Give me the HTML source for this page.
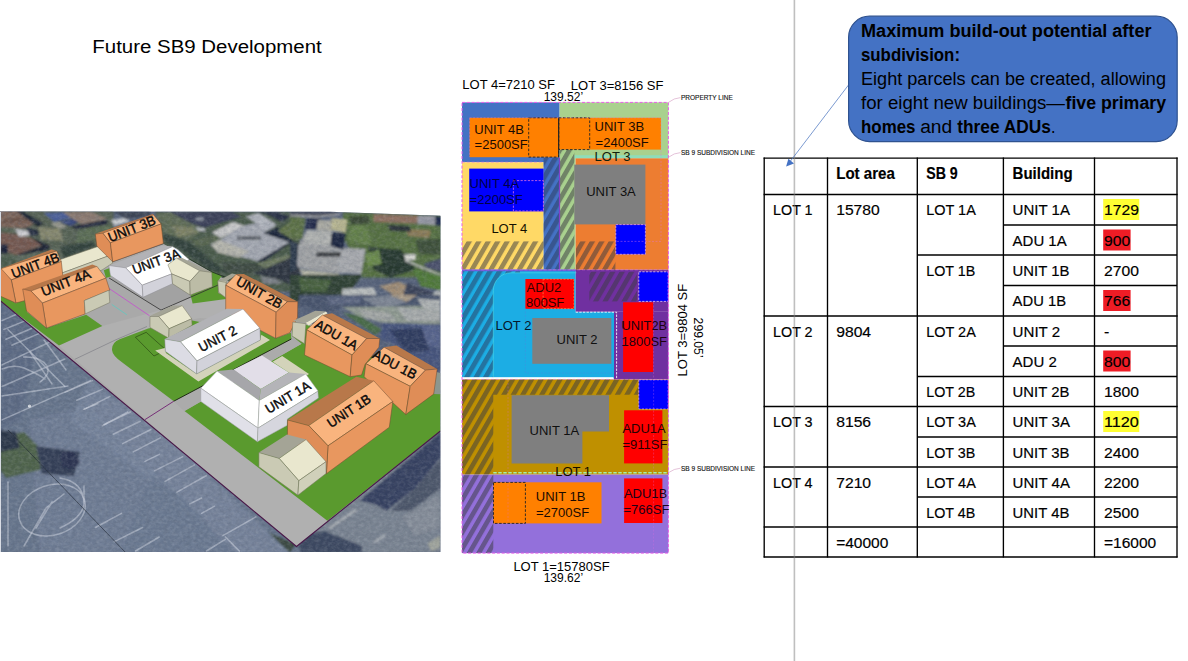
<!DOCTYPE html>
<html><head><meta charset="utf-8"><title>Future SB9 Development</title>
<style>
html,body{margin:0;padding:0;background:#fff;}
body{width:1188px;height:661px;overflow:hidden;font-family:"Liberation Sans",sans-serif;}
svg{display:block;position:absolute;left:0;top:0;}
text{font-family:"Liberation Sans",sans-serif;}
</style></head><body>
<svg width="1188" height="661" viewBox="0 0 1188 661">
<rect x="0" y="0" width="1188" height="661" fill="#ffffff"/>
<defs>
<clipPath id="imgclip"><polygon points="0,211.6 330,211.8 440.4,215.8 440.4,552.1 0,552.1"/></clipPath>
<filter id="bl3" x="-20%" y="-20%" width="140%" height="140%"><feGaussianBlur stdDeviation="2.2"/></filter>
<filter id="bl1" x="-20%" y="-20%" width="140%" height="140%"><feGaussianBlur stdDeviation="0.9"/></filter>
<filter id="bl1b" x="-5%" y="-5%" width="110%" height="110%"><feGaussianBlur stdDeviation="1.3"/></filter>
<filter id="bl0" x="-5%" y="-5%" width="110%" height="110%"><feGaussianBlur stdDeviation="0.75"/></filter>
<filter id="grain" x="0" y="0" width="100%" height="100%">
<feTurbulence type="fractalNoise" baseFrequency="0.22 0.3" numOctaves="3" seed="7" result="n"/>
<feColorMatrix in="n" type="matrix" values="0 0 0 0 0.08  0 0 0 0 0.1  0 0 0 0 0.14  1.6 1.2 0 0 -1.05"/>
</filter>
<filter id="grain2" x="0" y="0" width="100%" height="100%">
<feTurbulence type="fractalNoise" baseFrequency="0.25 0.33" numOctaves="3" seed="21" result="n"/>
<feColorMatrix in="n" type="matrix" values="0 0 0 0 0.85  0 0 0 0 0.88  0 0 0 0 0.9  0 1.3 1.5 0 -1.12"/>
</filter>
</defs>
<g clip-path="url(#imgclip)">
<rect x="0" y="211" width="441" height="342" fill="#56627a"/>
<g filter="url(#bl1b)">
<polygon points="0.0,210.5 113.6,210.5 113.6,261.0 63.1,261.0 0.0,273.7" fill="#566252" />
<polygon points="0.0,210.5 20.2,210.5 36.6,222.5 25.3,228.2 0.0,226.9" fill="#7c6459" />
<polygon points="0.0,232.6 15.2,233.9 31.6,238.3 42.3,245.2 16.4,255.0 0.0,249.7" fill="#74594f" />
<polygon points="2.5,220.6 25.3,216.8 29.0,220.0 3.8,223.8" fill="#6a5249" />
<polygon points="16.4,211.2 22.7,211.2 44.2,223.2 37.9,226.9" fill="#1e2634" />
<polygon points="15.2,228.8 29.0,231.0 30.6,235.1 18.9,236.8" fill="#cfcfd3" />
<polygon points="25.3,226.9 37.9,230.1 39.1,235.1 30.9,236.4" fill="#222a3c" />
<polygon points="31.6,237.7 49.9,245.2 48.6,250.3 18.9,255.7 16.4,255.0 42.3,245.9" fill="#1b2130" />
<polygon points="0.6,244.0 7.6,244.6 8.2,253.5 0.6,254.1" fill="#1a2238" />
<polygon points="0.0,254.7 18.9,255.7 41.7,251.6 58.1,257.9 0.0,268.6" fill="#5d6a5c" />
<polygon points="1.3,257.2 15.2,256.6 16.4,264.8 1.3,267.3" fill="#47594a" />
<polygon points="37.9,226.9 60.6,228.8 63.1,240.8 41.7,239.6" fill="#84866c" />
<polygon points="43.6,213.1 63.1,212.2 71.3,218.1 54.3,222.1" fill="#4c5f99" />
<polygon points="59.3,222.1 75.8,217.5 81.4,220.6 70.7,225.9" fill="#36447a" />
<polygon points="50.5,223.2 59.3,222.1 66.9,226.9 59.3,228.8" fill="#9a9a90" />
<polygon points="63.1,212.2 90.9,211.8 107.3,218.7 82.1,224.4 71.3,218.1" fill="#8c7a70" />
<polygon points="70.7,225.9 80.8,224.4 107.3,219.4 107.3,224.4 75.8,229.5" fill="#20263a" />
<polygon points="111.1,220.0 127.5,217.1 129.4,221.9 114.9,225.9" fill="#c4c8cc" />
<polygon points="113.6,211.2 150.0,211.2 150.0,215.6 126.3,219.4" fill="#3c4454" />
<polygon points="78.3,229.5 111.1,224.4 113.6,230.7 96.0,244.6 75.8,245.9" fill="#5a6c52" />
<polygon points="60.6,245.9 93.4,240.8 96.0,245.9 63.1,257.9" fill="#33423a" />
<polygon points="155.1,211.8 300.0,211.8 300.0,291.5 187.9,291.5 162.6,245.9" fill="#4a5a4a" />
<polygon points="156.3,213.1 171.5,212.4 203.0,229.5 187.9,241.5 165.2,238.3" fill="#5e6c55" />
<polygon points="171.5,225.7 191.7,226.9 198.0,233.3 177.8,237.0" fill="#7c8064" />
<polygon points="170.2,212.2 232.1,212.2 241.2,216.8 204.3,227.8 191.7,223.4" fill="#3b4158" />
<polygon points="195.5,218.1 203.0,217.5 204.3,220.0 196.7,220.6" fill="#9aa0ac" />
<polygon points="195.5,226.9 204.3,228.2 205.6,231.4 198.0,230.7" fill="#b8bcc0" />
<polygon points="163.9,233.3 187.9,240.8 228.3,273.7 209.3,269.9 181.6,250.3 163.9,240.8" fill="#33433b" />
<polygon points="191.7,240.8 215.7,235.1 220.7,239.6 210.6,244.6 195.5,245.9" fill="#586650" />
<polygon points="210.6,244.6 220.7,239.6 238.4,226.9 261.1,221.9 276.3,225.7 263.6,233.3 289.5,242.1 257.3,261.3 248.5,258.5 218.2,252.4" fill="#a5a9b2" />
<polygon points="211.9,232.6 233.3,221.9 243.7,225.7 220.7,237.9" fill="#cacaca" />
<polygon points="210.6,244.6 220.7,240.3 249.7,251.6 238.4,257.5 218.2,252.4" fill="#b6b6ad" />
<polygon points="246.0,216.8 258.6,213.1 276.3,224.4 266.2,229.5" fill="#b2b6be" />
<polygon points="237.1,236.4 261.1,236.4 261.1,239.6 237.1,239.6" fill="#555a60" />
<polygon points="263.6,233.3 277.5,226.9 293.3,241.1 263.6,261.7 257.3,261.3 289.5,242.1" fill="#1d253b" />
<polygon points="258.6,213.1 276.3,211.8 290.2,216.8 281.3,221.9 269.9,215.6" fill="#2a3246" />
<polygon points="277.5,230.7 300.0,215.6 300.0,239.6 292.7,239.8" fill="#607246" />
<polygon points="257.3,263.6 293.3,253.5 289.5,278.7 269.9,271.1" fill="#6e7a60" />
<polygon points="220.7,262.3 257.3,263.6 269.9,271.1 251.0,273.7 225.8,272.4" fill="#3c4a40" />
<polygon points="253.5,273.7 276.3,278.7 300.0,288.8 300.0,258.5 293.9,256.0" fill="#2d3541" />
<polygon points="259.8,276.2 276.3,278.7 282.6,283.8 263.6,283.8" fill="#7c8086" />
<polygon points="295.2,245.9 300.0,244.6 300.0,267.3 296.5,266.1" fill="#b0b4b8" />
<polygon points="342.9,212.2 441.7,215.0 441.7,277.6 362.4,277.6 342.9,235.8" fill="#55703f" />
<polygon points="290.0,212.2 337.3,212.2 331.7,216.6 306.7,216.6 290.0,214.7" fill="#3c4254" />
<polygon points="290.0,214.4 317.8,215.8 340.1,213.6 340.4,215.0 317.8,217.5 290.0,216.1" fill="#aaaaaa" />
<polygon points="290.0,217.7 305.3,217.7 302.5,239.3 290.0,236.5" fill="#5b7145" />
<polygon points="306.7,218.4 320.9,217.7 317.8,229.1 305.3,229.1" fill="#202c48" />
<polygon points="317.8,219.8 331.7,220.5 331.2,231.1 316.4,230.3" fill="#a9a9a1" />
<polygon points="331.7,217.7 347.3,219.8 345.7,232.5 331.0,230.3" fill="#bab892" />
<polygon points="298.3,245.8 306.7,230.3 331.7,231.0 333.4,247.0 365.4,249.0 361.2,273.4 337.3,272.8 298.3,268.1" fill="#a1a3a5" />
<polygon points="306.7,230.3 331.7,231.0 333.1,245.8 303.9,243.1" fill="#b1b3b1" />
<polygon points="337.3,249.7 365.4,249.0 361.2,273.4 338.0,272.7" fill="#a8aaae" />
<polygon points="299.7,269.2 338.7,273.4 341.8,279.2 302.5,275.1" fill="#b9b9a9" />
<polygon points="331.7,233.0 345.9,233.0 343.2,250.0 330.4,245.8" fill="#1d2740" />
<polygon points="316.4,252.2 340.8,252.2 340.8,256.7 316.4,256.7" fill="#3a3c40" />
<polygon points="290.0,241.4 298.3,242.8 297.0,269.2 290.0,272.0" fill="#2c3848" />
<polygon points="373.5,214.3 418.3,215.7 417.5,223.6 373.5,221.9" fill="#8f6f61" />
<polygon points="418.0,215.7 435.7,216.1 435.7,225.0 417.3,224.1" fill="#9799a5" />
<polygon points="435.4,216.3 441.7,216.3 441.7,225.7 435.4,225.7" fill="#192347" />
<polygon points="405.5,228.9 430.8,230.3 429.4,238.1 408.3,236.1" fill="#8b7b59" />
<polygon points="348.4,216.3 367.9,215.7 370.7,223.3 351.2,224.7" fill="#3a4a34" />
<polygon points="387.4,224.7 409.7,226.1 411.1,231.7 390.2,231.0" fill="#2a3238" />
<polygon points="367.9,247.0 401.3,249.7 415.9,269.5 390.2,277.8 373.5,269.5" fill="#27372f" />
<polygon points="365.1,253.9 379.0,249.7 381.8,263.7 367.9,266.4" fill="#6a8a4c" />
<polygon points="351.2,224.7 367.9,226.1 370.7,244.2 348.4,241.4" fill="#64804a" />
<polygon points="415.2,240.0 441.0,238.6 441.0,255.3 419.4,253.9" fill="#3c5038" />
<polygon points="404.1,254.6 415.5,253.9 415.5,259.8 405.5,260.5" fill="#d2d2ce" />
<polygon points="405.5,259.5 441.7,274.8 441.7,276.5 404.8,261.2" fill="#b8bab8" />
<polygon points="412.4,269.2 441.7,275.5 441.7,290.4 420.8,286.2" fill="#4f7939" />
<polygon points="423.6,263.7 441.7,258.1 441.7,272.3 426.4,268.1" fill="#484f6b" />
<polygon points="290.0,274.8 362.6,274.8 342.9,301.2 290.0,301.2" fill="#2d3f33" />
<polygon points="298.3,277.6 331.7,280.4 326.2,291.5 301.1,291.5" fill="#46603e" />
<polygon points="342.9,288.7 373.8,287.3 379.3,301.2 340.1,301.2" fill="#b9bdbd" />
<polygon points="379.0,285.9 398.8,281.7 421.1,291.5 401.6,300.1" fill="#a18d75" />
<polygon points="359.6,294.3 395.7,301.2 359.6,301.2" fill="#4b5979" />
<polygon points="406.9,283.1 435.0,292.9 415.2,301.2 401.3,301.2" fill="#3b4359" />
<polygon points="434.7,291.5 441.7,290.1 441.7,301.2 429.1,301.2" fill="#b4b8b8" />
<polygon points="298.9,295.0 440.3,295.0 440.3,305.4 342.4,307.2 326.7,312.4 298.9,305.4" fill="#46526c" />
<polygon points="326.7,296.7 361.5,295.9 359.8,303.7 328.5,305.4" fill="#5c6680" />
<polygon points="361.5,298.5 389.3,295.0 406.7,302.0 382.4,308.9" fill="#7e8694" />
<polygon points="389.3,295.0 417.2,295.0 406.7,302.0" fill="#a89a86" />
<polygon points="342.4,307.2 440.3,305.4 440.3,324.6 382.4,322.8 358.0,315.9" fill="#8f9a90" />
<polygon points="358.0,308.9 389.3,312.4 396.3,321.1 366.7,319.3" fill="#a4a8a6" />
<polygon points="396.3,307.2 440.3,310.7 440.3,321.1 406.7,321.1" fill="#a8acac" />
<polygon points="417.2,298.5 440.3,300.2 440.3,310.7 424.1,308.9" fill="#b0b4b4" />
<polygon points="342.4,312.4 359.8,315.9 382.4,329.8 375.4,335.0" fill="#4a6c46" />
<polygon points="382.4,322.8 440.3,324.6 440.3,371.5 434.6,371.5 396.3,345.4 379.8,338.5" fill="#45537b" />
<polygon points="389.3,329.8 424.1,328.0 429.3,350.7 406.7,352.4" fill="#2f3b5f" />
<polygon points="420.7,324.6 440.3,326.3 440.3,347.2 427.6,345.4" fill="#56648c" />
<polygon points="300.0,543.4 326.7,520.8 440.5,431.3 440.5,552.7 300.0,552.7" fill="#7a8492" />
<polygon points="359.6,500.6 440.5,432.3 440.5,457.4 415.2,488.3 386.4,510.9 376.1,504.7" fill="#364060" />
<polygon points="415.2,488.3 440.5,459.1 440.5,488.3 411.1,510.9 390.5,510.9" fill="#4b5569" />
<polygon points="300.0,535.2 324.7,531.1 361.7,545.9 361.7,552.7 300.0,552.7" fill="#3a4660" />
<polygon points="402.8,516.7 440.5,494.0 440.5,527.0 415.2,535.2" fill="#868e9a" />
<polygon points="328.8,527.4 355.5,508.9 356.8,510.5 330.0,529.0" fill="#b4b8bc" />
<polygon points="374.0,541.8 384.3,534.4 385.2,535.6 374.9,543.0" fill="#c4c8cc" />
<polygon points="427.5,543.4 440.5,535.2 440.5,547.5 431.6,551.6" fill="#a0a49c" />
<polygon points="0,296 300,550 300,553 0,553" fill="#66748c" />
<polygon points="0,300 40,330 20,420 0,430" fill="#5c6a84" />
<polygon points="30,420 120,400 210,480 150,553 40,553" fill="#6e7c94" />
<polygon points="90,380 180,450 150,480 70,420" fill="#75839b" />
<polygon points="150,480 240,520 230,553 120,553" fill="#6b7991" />
<polygon points="0,436 24,432 44,452 40,470 6,478 0,470" fill="#4e6248" />
<polygon points="36,446 80,452 74,476 42,474" fill="#333d55" />
<polygon points="0,430 16,432 20,448 0,452" fill="#2c3446" />
<polygon points="60,452 74,452 80,462 74,469 62,467" fill="#2a3350" />
<polygon points="161.5,440 171,439 173.3,446 164,448" fill="#4a5e48" />
<polygon points="256,527 296,544 290,553 262,553" fill="#3a4a40" />
<polygon points="84,400 130,400 290,553 236,553" fill="#74829a" />
</g>
<g filter="url(#bl0)" stroke="#ccd2de" stroke-opacity="0.55" stroke-width="1.5" stroke-linecap="round" fill="none">
<line x1="83.6" y1="409.4" x2="97.8" y2="403.5"/>
<line x1="103.7" y1="424.8" x2="130.8" y2="411.8"/>
<line x1="113.1" y1="434.2" x2="140.3" y2="421.2"/>
<line x1="122.6" y1="443.7" x2="150.9" y2="429.5"/>
<line x1="133.2" y1="451.9" x2="160.3" y2="437.8"/>
<line x1="145" y1="461.4" x2="159.2" y2="454.3"/>
<line x1="154.4" y1="470.8" x2="182.8" y2="456.7"/>
<line x1="165" y1="481.4" x2="194.6" y2="464.9"/>
<line x1="176.9" y1="492.1" x2="206.4" y2="475.5"/>
<line x1="189.8" y1="503.9" x2="201.6" y2="498"/>
<line x1="201.6" y1="513.3" x2="214.6" y2="506.2"/>
<line x1="222.9" y1="535.7" x2="255.9" y2="516.9"/>
<line x1="225.3" y1="536.9" x2="239.4" y2="551.1"/>
<line x1="206.4" y1="551" x2="225.3" y2="539.3"/>
<line x1="95.4" y1="527.5" x2="121.4" y2="513.3"/>
<line x1="114.3" y1="541.6" x2="142.6" y2="527.5"/>
<line x1="135.5" y1="551" x2="159.2" y2="537"/>
<line x1="64.9" y1="392.4" x2="92.4" y2="380.6"/>
<line x1="76.7" y1="400.2" x2="102.2" y2="389.4"/>
<line x1="84.5" y1="409.1" x2="110" y2="396.3"/>
<line x1="102.2" y1="425.8" x2="127.8" y2="412"/>
<line x1="2" y1="320.6" x2="17.7" y2="313.8"/>
<line x1="3.9" y1="329.5" x2="25.6" y2="320.6"/>
<line x1="5.9" y1="339.3" x2="31.4" y2="328.5"/>
<line x1="11.8" y1="345.2" x2="39.3" y2="333.4"/>
<line x1="7.9" y1="329.5" x2="64.9" y2="386.5"/>
<line x1="2" y1="364.9" x2="49.1" y2="342.3"/>
<line x1="2" y1="386.5" x2="64.9" y2="359"/>
<line x1="2" y1="419.9" x2="90.4" y2="380.6"/>
<line x1="2" y1="396" x2="68" y2="386"/>
<line x1="30" y1="352" x2="52" y2="384"/>
<line x1="44" y1="340" x2="66" y2="370"/>
<path d="M23.6,357 Q40,356 47,366 Q51,374 40,382 M2,369 Q14,364 24,368 Q38,374 45,379"/>
<ellipse cx="52" cy="510" rx="34" ry="25" transform="rotate(-18 52 510)"/>
<path d="M8,482 L8,546 M24,546 L46,508 L64,494 M36,528 L52,502 M84,486 L84,500 M60,478 Q84,482 84,504 Q82,518 60,528"/>
</g>
<circle cx="29.5" cy="406.1" r="1.6" fill="#e8ecf0" filter="url(#bl0)"/>
<line x1="8" y1="430" x2="126" y2="553" stroke="#1c2430" stroke-width="0.8" stroke-opacity="0.8"/>
<rect x="0" y="211" width="441" height="342" filter="url(#grain)" opacity="0.22"/>
<rect x="0" y="211" width="441" height="342" filter="url(#grain2)" opacity="0.13"/>
<polygon points="0,300.5 296.5,546.5 440.4,431 440.4,394 433.7,394.1 330,330 296,318 226,280 212,272 189.1,259.2 163.8,244 113,262 64,272 0,292" fill="#a9a9a9" />
<polygon points="59,345.6 102.3,326 161,310 225,282 262,322 200,318 148,328.4 119.7,339.2 112,349 122,362.3 173.8,401.2 184.5,410.9 327.4,520.7 296.5,546.5 181,450" fill="#b0b0b0" />
<polygon points="108.9,277.9 161,310.1 204,292 168,270" fill="#a2a2a2" />
<polygon points="0,294 18,304.5 46.4,328.1 86.2,314.8 102.3,326 59,345.6 0,301" fill="#5a9a2e" />
<path d="M112,350 Q111.6,342.4 119.7,339.2 L148.2,328.4 L192,320.5 L200,322 L226,312 L275.6,338.3 L290.9,332.7 L291.3,339 L173.8,401.2 L122,362.3 Q112.4,355.6 112,350 Z" fill="#5a9a2e"/>
<polygon points="184.5,410.9 301.6,343.7 292,336 292,322 330,330 433.7,394.1 440.4,394 440.4,431 327.4,520.7" fill="#5a9a2e" />
<polygon points="211.5,271.6 221.7,276.1 218,281 217.9,294.3 199,300.4 191.5,295" fill="#5a9a2e" />
<polygon points="190.6,295 212.3,286.1 217.8,280.9 226,299 192.6,303.5" fill="#5a9a2e" />
<polygon points="103.8,270.3 109.8,268 112,276 106,278" fill="#5a9a2e" />
<polygon points="14,296 27,300 27,313 17,306" fill="#5a9a2e" />
<polygon points="173.8,401.2 291.3,339 301.6,343.7 184.5,410.9" fill="#ababab" />
<path d="M108.9,288.3 L149.6,315.8" stroke="#c060c8" stroke-width="1" fill="none"/>
<path d="M111.7,304.4 L126.9,314.8" stroke="#60c8c0" stroke-width="0.8" fill="none"/>
<path d="M108.9,277.9 L161,310.1 L225,282" stroke="#303030" stroke-width="0.8" fill="none"/>
<path d="M173.8,401.2 L291.3,339" stroke="#1c2c10" stroke-width="1" fill="none"/>
<path d="M135.4,337.2 L146.2,332.3 L166,350 L154,356 Z" stroke="#2c4c14" stroke-width="0.7" fill="none"/>
<path d="M145,419.6 L173.8,401.2" stroke="#702070" stroke-width="0.9" fill="none"/>
<path d="M74.8,359.3 L116,339.7 L147,326.5" stroke="#77777f" stroke-width="0.6" fill="none"/>
<path d="M189.1,258.9 L212,272 L230,279" stroke="#1c2c1c" stroke-width="0.8" fill="none"/>
<path d="M0,300.5 L296.5,546.5 L440.4,431" stroke="#4a1848" stroke-width="1.1" fill="none"/>
<polygon points="56,261 102.9,244.8 112,254.6 62,273" fill="#e9e7ce" stroke="#70705c" stroke-width="0.5" stroke-linejoin="round"/>
<polygon points="62,273 112,254.6 112.7,263 102,270 63,285" fill="#cacab4" stroke="#70705c" stroke-width="0.5" stroke-linejoin="round"/>
<polygon points="0,268.4 1.5,268.2 51.5,249.6 56.7,250.9 2.3,269" fill="#b8784a"/>
<polygon points="0,269.4 2.3,268.3 56.7,250.9 61.3,261.5 11.3,279.9 0,270.6" fill="#f9b47e" stroke="#6a4a30" stroke-width="0.5" stroke-linejoin="round"/>
<polygon points="11.3,279.9 61.3,261.5 64.4,290 15.9,303" fill="#e8975f" stroke="#6a4a30" stroke-width="0.5" stroke-linejoin="round"/>
<polygon points="0,270 1.5,269 11.3,279.9 15.9,303 0,296" fill="#df8d57" stroke="#6a4a30" stroke-width="0.5" stroke-linejoin="round"/>
<polygon points="95.3,234.1 102.9,233 110.4,242.8 112.7,261.8 96.8,246" fill="#df8d57" stroke="#6a4a30" stroke-width="0.5" stroke-linejoin="round"/>
<polygon points="102.9,233 153.6,214.8 161.1,223.9 110.4,242.8" fill="#f9b47e" stroke="#6a4a30" stroke-width="0.5" stroke-linejoin="round"/>
<polygon points="95.3,233.8 152.8,214.1 153.6,214.8 102.9,233" fill="#b8784a"/>
<polygon points="110.4,242.8 161.1,223.9 163.4,243.6 112.7,261.8" fill="#e8975f" stroke="#6a4a30" stroke-width="0.5" stroke-linejoin="round"/>
<polygon points="108.9,265.5 162.6,245.6 172.5,246.6 125.6,267.8" fill="#b2b2b6"/>
<polygon points="125.6,267.8 172.5,246.6 177.8,249.6 189.1,259.5 171.7,273.9 142.2,285.2" fill="#ffffff" stroke="#8a8a90" stroke-width="0.5" stroke-linejoin="round"/>
<polygon points="108.9,265.5 125.6,267.8 142.2,285.2 143,297.3 110.4,275.4" fill="#dcdce4" stroke="#8a8a90" stroke-width="0.5" stroke-linejoin="round"/>
<polygon points="142.2,285.2 171.7,273.9 172.5,283.7 143,297.3" fill="#d2d2da" stroke="#8a8a90" stroke-width="0.5" stroke-linejoin="round"/>
<polygon points="176.3,258 180.8,257.2 211.8,272.4 199.7,270.8" fill="#a4a496"/>
<polygon points="167.9,264.8 176.3,258 199.7,270.8 189.9,281.4 171.7,273.9" fill="#e9e7ce" stroke="#70705c" stroke-width="0.5" stroke-linejoin="round"/>
<polygon points="171.7,273.9 189.9,281.4 190.2,295.1 172.5,283.7" fill="#cacab4" stroke="#70705c" stroke-width="0.5" stroke-linejoin="round"/>
<polygon points="189.9,281.4 199.7,270.8 211.8,272.4 212.3,286.7 190.2,295.1" fill="#bcbca6" stroke="#70705c" stroke-width="0.5" stroke-linejoin="round"/>
<polygon points="217.9,280.7 226.6,278.6 226.6,297 218.4,293" fill="#cacab4" stroke="#70705c" stroke-width="0.5" stroke-linejoin="round"/>
<polygon points="22.7,289 92.3,264.5 96.9,266.3 31,291" fill="#b8784a"/>
<polygon points="31,291 96.9,266.3 105.9,278.1 42.4,303.1" fill="#f9b47e" stroke="#6a4a30" stroke-width="0.5" stroke-linejoin="round"/>
<polygon points="42.4,303.1 105.9,278.1 109.8,290.2 84.3,300.6 85.2,313.9 46.4,328.1" fill="#e8975f" stroke="#6a4a30" stroke-width="0.5" stroke-linejoin="round"/>
<polygon points="22.7,289 31,291 42.4,303.1 46.4,328.1 26.5,311" fill="#df8d57" stroke="#6a4a30" stroke-width="0.5" stroke-linejoin="round"/>
<polygon points="84.3,300.6 108.9,290.2 109.8,302.5 85.2,313.9" fill="#cacab4" stroke="#70705c" stroke-width="0.5" stroke-linejoin="round"/>
<polygon points="150,315.7 172.6,305.6 182.2,305.6 158.7,316.5" fill="#a4a496"/>
<polygon points="158.7,316.5 182.2,305.6 191.7,318.8 169.1,328.7" fill="#e9e7ce" stroke="#70705c" stroke-width="0.5" stroke-linejoin="round"/>
<polygon points="150,316.5 158.7,316.5 169.1,328.7 168.8,338.3 150,327.4" fill="#cacab4" stroke="#70705c" stroke-width="0.5" stroke-linejoin="round"/>
<polygon points="169.1,328.7 191.7,318.8 192.1,325.2 168.8,338.3" fill="#bcbca6" stroke="#70705c" stroke-width="0.5" stroke-linejoin="round"/>
<polygon points="217.8,280.9 232,273.6 237,274.6 226,281.6" fill="#a4a496"/>
<polygon points="217.8,280.9 226,282.4 226,298 218.7,292.2" fill="#cacab4" stroke="#70705c" stroke-width="0.5" stroke-linejoin="round"/>
<polygon points="236.1,274.3 243.9,273.9 297.8,301.7 287.4,301.7" fill="#b8784a"/>
<polygon points="225.7,285.2 236.1,274.3 287.4,301.7 276.1,312.2" fill="#f9b47e" stroke="#6a4a30" stroke-width="0.5" stroke-linejoin="round"/>
<polygon points="225.7,285.2 276.1,312.2 275.6,338.3 225.7,312" fill="#e8975f" stroke="#6a4a30" stroke-width="0.5" stroke-linejoin="round"/>
<polygon points="276.1,312.2 287.4,301.7 297.8,301.7 297.5,317.4 290,332.7 275.6,338.3" fill="#df8d57" stroke="#6a4a30" stroke-width="0.5" stroke-linejoin="round"/>
<polygon points="292.8,321.1 315.4,310.7 325.9,311.5 305.9,322.8" fill="#a4a496"/>
<polygon points="305.9,322.8 325.9,311.5 327.6,313.3 308.6,325.4" fill="#e9e7ce"/>
<polygon points="292.8,322 305.9,323.7 304.5,343.7 292,335.9" fill="#cacab4" stroke="#70705c" stroke-width="0.5" stroke-linejoin="round"/>
<polygon points="155.2,350.4 164.9,348 165.9,353 196.6,373.9 260.4,340 261.3,334.8 270,340 198.4,381.5" fill="#d3d3ba"/>
<polygon points="164.8,339.1 226.5,308.7 243,309 180.4,341.7" fill="#b2b2b6"/>
<polygon points="180.4,341.7 243,309 259.9,328.2 197,360.9" fill="#ffffff" stroke="#8a8a90" stroke-width="0.5" stroke-linejoin="round"/>
<polygon points="164.8,339.1 180.4,341.7 197,360.9 196.6,373.9 165.3,351.3" fill="#dcdce4" stroke="#8a8a90" stroke-width="0.5" stroke-linejoin="round"/>
<polygon points="197,360.9 259.9,328.2 260.4,340 196.6,373.9" fill="#d2d2da" stroke="#8a8a90" stroke-width="0.5" stroke-linejoin="round"/>
<polygon points="322.4,315 332,313.3 379.8,338.5 366.7,338.5" fill="#b8784a"/>
<polygon points="306.7,329.8 322.4,315 366.7,338.5 352,355" fill="#f9b47e" stroke="#6a4a30" stroke-width="0.5" stroke-linejoin="round"/>
<polygon points="306.7,329.8 352,355 350.2,376.7 304.5,355" fill="#e8975f" stroke="#6a4a30" stroke-width="0.5" stroke-linejoin="round"/>
<polygon points="352,355 366.7,338.5 379.8,338.5 378.9,347.2 365,364.6 361.5,375 350.2,376.7" fill="#df8d57" stroke="#6a4a30" stroke-width="0.5" stroke-linejoin="round"/>
<polygon points="434.6,371.5 440.6,373 440.6,394.2 433.7,394.1" fill="#8c968e"/>
<polygon points="384.1,347.2 396.3,345.4 437.2,368.9 425.5,370.1" fill="#b8784a"/>
<polygon points="365.9,363.7 384.1,347.2 425.5,370.1 410.2,386.3" fill="#f9b47e" stroke="#6a4a30" stroke-width="0.5" stroke-linejoin="round"/>
<polygon points="365.9,363.7 410.2,386.3 405.8,414.5 364.1,376.7" fill="#e8975f" stroke="#6a4a30" stroke-width="0.5" stroke-linejoin="round"/>
<polygon points="410.2,386.3 425.5,370.1 437.2,368.9 433.7,394.1 405.8,414.5" fill="#df8d57" stroke="#6a4a30" stroke-width="0.5" stroke-linejoin="round"/>
<polygon points="272.6,361.7 282.2,356 309,374 300,380 288,372" fill="#d3d3ba"/>
<polygon points="233.6,369.5 262,355.5 288.8,372.6 260.8,389.1" fill="#e2dee8"/>
<polygon points="217.1,371.1 233.6,369.5 260.8,389.1 259.3,400.4" fill="#a6a6aa"/>
<polygon points="260.8,389.1 288.8,372.6 305.7,374 259.3,400.4" fill="#b4b4b8"/>
<polygon points="217.1,371.1 259.3,400.4 258,428.1 200.8,388.2" fill="#ffffff" stroke="#9a9aa0" stroke-width="0.5" stroke-linejoin="round"/>
<polygon points="259.3,400.4 305.7,374 318.1,391.1 258,428.1" fill="#ffffff" stroke="#9a9aa0" stroke-width="0.5" stroke-linejoin="round"/>
<polygon points="200.8,388.2 258,428.1 257.4,441.7 200.8,401.4" fill="#e0e0e8" stroke="#9a9aa0" stroke-width="0.5" stroke-linejoin="round"/>
<polygon points="258,428.1 317.9,391.3 318.4,398.1 287.4,419 287,425.4 257.4,441.7" fill="#d6d6de" stroke="#9a9aa0" stroke-width="0.5" stroke-linejoin="round"/>
<polygon points="287.6,420 356.3,376.7 373.8,380.8 308.8,425.6" fill="#b8784a"/>
<polygon points="308.8,425.6 373.8,380.8 392.8,401.5 328,445.8" fill="#f9b47e" stroke="#6a4a30" stroke-width="0.5" stroke-linejoin="round"/>
<polygon points="328,445.8 392.8,401.5 389.3,427.2 326.4,473.7" fill="#e8975f" stroke="#6a4a30" stroke-width="0.5" stroke-linejoin="round"/>
<polygon points="287.6,420 308.8,425.6 328,445.8 326.4,473.7 287.4,436" fill="#df8d57" stroke="#6a4a30" stroke-width="0.5" stroke-linejoin="round"/>
<polygon points="258.9,452.6 287,434.4 306.1,439.5 279.2,458.4" fill="#a4a496"/>
<polygon points="279.2,458.4 306.1,439.5 326,461.7 298.8,480.7" fill="#e9e7ce" stroke="#70705c" stroke-width="0.5" stroke-linejoin="round"/>
<polygon points="258.9,452.6 279.2,458.4 298.8,480.7 297.9,495.2 258.9,466.8" fill="#cacab4" stroke="#70705c" stroke-width="0.5" stroke-linejoin="round"/>
<polygon points="298.8,480.7 326,461.7 326,473.5 297.9,495.2" fill="#d0d0ba" stroke="#70705c" stroke-width="0.5" stroke-linejoin="round"/>
<text transform="translate(13.6,278.6) rotate(-20.8)" font-size="13.5" fill="#0a0a0a" stroke="#0a0a0a" stroke-width="0.42" textLength="50.2" lengthAdjust="spacingAndGlyphs">UNIT 4B</text>
<text transform="translate(43.4,296.4) rotate(-21.5)" font-size="13.5" fill="#0a0a0a" stroke="#0a0a0a" stroke-width="0.42" textLength="52.0" lengthAdjust="spacingAndGlyphs">UNIT 4A</text>
<text transform="translate(110.3,242.2) rotate(-21.5)" font-size="13.5" fill="#0a0a0a" stroke="#0a0a0a" stroke-width="0.42" textLength="49.9" lengthAdjust="spacingAndGlyphs">UNIT 3B</text>
<text transform="translate(134.4,274.5) rotate(-20.4)" font-size="13.5" fill="#0a0a0a" stroke="#0a0a0a" stroke-width="0.42" textLength="49.8" lengthAdjust="spacingAndGlyphs">UNIT 3A</text>
<text transform="translate(234.9,284.3) rotate(29.4)" font-size="13.5" fill="#0a0a0a" stroke="#0a0a0a" stroke-width="0.42" textLength="50.6" lengthAdjust="spacingAndGlyphs">UNIT 2B</text>
<text transform="translate(201.6,352.2) rotate(-27.4)" font-size="13.5" fill="#0a0a0a" stroke="#0a0a0a" stroke-width="0.42" textLength="40.8" lengthAdjust="spacingAndGlyphs">UNIT 2</text>
<text transform="translate(313.7,327.2) rotate(29.9)" font-size="13.5" fill="#0a0a0a" stroke="#0a0a0a" stroke-width="0.42" textLength="47.1" lengthAdjust="spacingAndGlyphs">ADU 1A</text>
<text transform="translate(371.6,357.6) rotate(27.6)" font-size="13.5" fill="#0a0a0a" stroke="#0a0a0a" stroke-width="0.42" textLength="47.6" lengthAdjust="spacingAndGlyphs">ADU 1B</text>
<text transform="translate(268.8,414.1) rotate(-31)" font-size="13.5" fill="#0a0a0a" stroke="#0a0a0a" stroke-width="0.42" textLength="50" lengthAdjust="spacingAndGlyphs">UNIT 1A</text>
<text transform="translate(330.9,428.2) rotate(-33.3)" font-size="13.5" fill="#0a0a0a" stroke="#0a0a0a" stroke-width="0.42" textLength="49.1" lengthAdjust="spacingAndGlyphs">UNIT 1B</text>
</g>
<line x1="0.5" y1="212" x2="0.5" y2="552" stroke="#d8dce4" stroke-width="1"/>
<defs>
<pattern id="hatch" width="8.2" height="8" patternUnits="userSpaceOnUse" patternTransform="rotate(30)">
<rect x="0" y="0" width="4.7" height="8" fill="#3c3c44" fill-opacity="0.52"/>
</pattern>
<pattern id="hatchb" width="8.2" height="8" patternUnits="userSpaceOnUse" patternTransform="rotate(30)">
<rect x="0" y="0" width="4.9" height="8" fill="#2c3a5c" fill-opacity="0.5"/>
</pattern>
</defs>
<rect x="462" y="102.4" width="97.60" height="59.80" fill="#4472C4" />
<rect x="559.6" y="102.4" width="108.80" height="55.80" fill="#A9D18E" />
<rect x="462" y="162.2" width="81.60" height="107.60" fill="#FFD966" />
<rect x="543.6" y="157.8" width="16.00" height="112.00" fill="#4472C4" />
<rect x="559.6" y="149.6" width="16.00" height="120.20" fill="#A9D18E" />
<rect x="575.6" y="158.2" width="92.80" height="111.60" fill="#ED7D31" />
<rect x="574.6" y="155.2" width="93.80" height="3.00" fill="#8FDDB9" />
<rect x="462" y="269.8" width="113.70" height="108.80" fill="#1CADE4" />
<rect x="575" y="311.8" width="39.00" height="66.80" fill="#1CADE4" />
<rect x="575.7" y="269.8" width="92.70" height="42.00" fill="#7030A0" />
<rect x="614" y="311.8" width="54.40" height="67.60" fill="#7030A0" />
<rect x="462" y="379.4" width="206.40" height="95.20" fill="#BF9000" />
<rect x="462" y="474.6" width="206.40" height="78.50" fill="#9370DB" />
<rect x="543.6" y="157.8" width="16.00" height="112.00" fill="url(#hatchb)" />
<rect x="559.6" y="149.6" width="14.70" height="120.20" fill="url(#hatch)" />
<rect x="462" y="241.4" width="81.60" height="28.40" fill="url(#hatch)" />
<rect x="576" y="241.4" width="39.40" height="28.40" fill="url(#hatch)" />
<path d="M462,270.6 H520 V272.8 H511 A17.7,17.7 0 0 0 493.3,290.5 V378 H462 Z" fill="url(#hatchb)"/>
<path d="M576.4,272.8 H511 A17.7,17.7 0 0 0 493.3,290.5 V377" fill="none" stroke="#58e8e8" stroke-opacity="0.8" stroke-width="0.6"/>
<line x1="559.5" y1="157.5" x2="559.5" y2="270" stroke="#8040c8" stroke-width="1.2"/>
<line x1="462" y1="270.4" x2="576" y2="270.4" stroke="#6a5cd8" stroke-width="1.8"/>
<rect x="589.3" y="271.8" width="47.70" height="29.60" fill="url(#hatch)" />
<path d="M462,379.4 H638.4 V394.8 H493.3 V474.4 H462 Z" fill="url(#hatch)"/>
<rect x="462" y="475.2" width="31.30" height="77.90" fill="url(#hatch)" />
<rect x="462" y="377.2" width="151.50" height="1.80" fill="#ffffff" />
<rect x="469.6" y="117.8" width="89.20" height="39.40" fill="#FF8000" />
<rect x="558.8" y="117.8" width="102.20" height="31.80" fill="#FF8000" />
<rect x="469.2" y="168.6" width="74.40" height="42.80" fill="#0000FF" />
<rect x="574.3" y="164.6" width="71.10" height="59.80" fill="#7F7F7F" />
<rect x="615.8" y="224.6" width="29.60" height="29.70" fill="#0000FF" />
<rect x="525.4" y="279" width="48.60" height="29.80" fill="#FF0000" />
<rect x="532.3" y="318" width="79.10" height="45.80" fill="#7F7F7F" />
<rect x="638.8" y="271.8" width="29.40" height="29.60" fill="#0000FF" />
<rect x="623.1" y="302.3" width="30.10" height="69.70" fill="#FF0000" />
<rect x="638.8" y="379.8" width="29.40" height="29.20" fill="#0000FF" />
<path d="M511.6,395.2 H609 V431.4 H582.4 V463.4 H511.6 Z" fill="#7F7F7F"/>
<rect x="624.1" y="410.3" width="38.30" height="53.10" fill="#FF0000" />
<rect x="493.3" y="482.3" width="108.20" height="41.10" fill="#FF8000" />
<rect x="624.1" y="478.4" width="38.30" height="44.60" fill="#FF0000" />
<rect x="543.1" y="279.2" width="30.8" height="29.4" fill="none" stroke="#ff9040" stroke-width="0.7" stroke-dasharray="2 1.4"/>
<line x1="493.3" y1="472.8" x2="668" y2="472.8" stroke="#A6F0A6" stroke-width="1.6" stroke-dasharray="3.4 1.6"/>
<rect x="528.7" y="117.8" width="29.90" height="39.30" fill="none" stroke="#222" stroke-width="0.9" stroke-dasharray="2.6 1.6"/>
<rect x="558.8" y="117.8" width="30.90" height="31.80" fill="none" stroke="#222" stroke-width="0.9" stroke-dasharray="2.6 1.6"/>
<line x1="558.7" y1="117.8" x2="558.7" y2="157" stroke="#222" stroke-width="1"/>
<rect x="493.5" y="482.4" width="31.90" height="41.00" fill="none" stroke="#222" stroke-width="0.9" stroke-dasharray="2.6 1.6"/>
<rect x="513.4" y="180.6" width="30.00" height="30.40" fill="none" stroke="#E070E0" stroke-width="0.8" stroke-dasharray="2.2 1.4"/>
<rect x="615.8" y="224.6" width="29.60" height="29.70" fill="none" stroke="#D9A0E8" stroke-width="0.8" stroke-dasharray="2.2 1.4"/>
<rect x="638.8" y="271.8" width="29.40" height="29.60" fill="none" stroke="#E8C8F0" stroke-width="0.8" stroke-dasharray="2.2 1.4"/>
<rect x="638.8" y="379.8" width="29.40" height="29.20" fill="none" stroke="#D9A0E8" stroke-width="0.8" stroke-dasharray="2.2 1.4"/>
<path d="M469.6,117.8 V157 M469.6,117.8 H661 V241.4 H615" fill="none" stroke="#E070E0" stroke-opacity="0.7" stroke-width="0.6" stroke-dasharray="2 1.5"/>
<path d="M575.7,312.2 H616.6 V379" fill="none" stroke="#ffffff" stroke-opacity="0.85" stroke-width="1" stroke-dasharray="2.4 1.2"/>
<path d="M525.4,308 V373 H611.6 V318" fill="none" stroke="#5080E0" stroke-opacity="0.6" stroke-width="0.6" stroke-dasharray="2 1.5"/>
<path d="M508,379.4 V523 M653.6,302 V553" fill="none" stroke="#E070E0" stroke-opacity="0.6" stroke-width="0.5" stroke-dasharray="2 1.5"/>
<rect x="462" y="102.4" width="206.4" height="450.7" fill="none" stroke="#E85FE8" stroke-width="1" stroke-dasharray="3 1.8"/>
<line x1="462" y1="269.8" x2="668.4" y2="269.8" stroke="#E070E0" stroke-opacity="0.7" stroke-width="0.8" stroke-dasharray="3 1.8"/>
<line x1="462" y1="379.4" x2="668.4" y2="379.4" stroke="#E070E0" stroke-opacity="0.7" stroke-width="0.8" stroke-dasharray="3 1.8"/>
<line x1="462" y1="162.2" x2="543.6" y2="162.2" stroke="#E070E0" stroke-opacity="0.7" stroke-width="0.8" stroke-dasharray="3 1.8"/>
<path d="M668.6,102.3 Q674,98 680.5,97.6" fill="none" stroke="#D8A8C8" stroke-width="0.7"/>
<path d="M668.6,157.2 Q674,153 680.5,152.6" fill="none" stroke="#D8A8C8" stroke-width="0.7"/>
<path d="M668.6,472.6 Q674,468.6 680.5,468.2" fill="none" stroke="#D8A8C8" stroke-width="0.7"/>
<text x="462.3" y="89.2" font-size="13" fill="#000" >LOT 4=7210 SF</text>
<text x="570.8" y="90.4" font-size="13" fill="#000" >LOT 3=8156 SF</text>
<text x="543.7" y="101" font-size="12" fill="#000" >139.52’</text>
<text x="474.3" y="133.6" font-size="13" fill="#1a0a00" >UNIT 4B</text>
<text x="474.6" y="149.4" font-size="13" fill="#1a0a00" >=2500SF</text>
<text x="594.6" y="130.8" font-size="13" fill="#1a0a00" >UNIT 3B</text>
<text x="595.6" y="147.2" font-size="13" fill="#1a0a00" >=2400SF</text>
<text x="594.6" y="161.2" font-size="13" fill="#10200c" >LOT 3</text>
<text x="586.2" y="195.6" font-size="13" fill="#101010" >UNIT 3A</text>
<text x="469.6" y="187.8" font-size="13" fill="#000048" >UNIT 4A</text>
<text x="469.6" y="203.6" font-size="13" fill="#000048" >=2200SF</text>
<text x="491.4" y="232.6" font-size="13" fill="#141000" >LOT 4</text>
<text x="526.6" y="291.5" font-size="13" fill="#300000" >ADU2</text>
<text x="526.0" y="307.2" font-size="13" fill="#300000" >800SF</text>
<text x="495.5" y="330.2" font-size="13" fill="#04182c" >LOT 2</text>
<text x="556.5" y="344.2" font-size="13" fill="#101010" >UNIT 2</text>
<text x="621.5" y="329.8" font-size="13" fill="#200010" textLength="45.6" lengthAdjust="spacingAndGlyphs">UNIT2B</text>
<text x="621.5" y="345.5" font-size="13" fill="#200010" >1800SF</text>
<text x="529.6" y="434.9" font-size="13" fill="#101010" >UNIT 1A</text>
<text x="622.4" y="433.3" font-size="13" fill="#280000" >ADU1A</text>
<text x="622.4" y="449" font-size="13" fill="#280000" >=911SF</text>
<text x="555.2" y="475.8" font-size="13" fill="#100c00" >LOT 1</text>
<text x="535.8" y="501.4" font-size="13" fill="#1a0a00" >UNIT 1B</text>
<text x="536" y="517.1" font-size="13" fill="#1a0a00" >=2700SF</text>
<text x="623.9" y="498" font-size="13" fill="#200018" >ADU1B</text>
<text x="623.5" y="513.8" font-size="13" fill="#200018" >=766SF</text>
<text x="513.4" y="570.6" font-size="13" fill="#000" >LOT 1=15780SF</text>
<text x="543.7" y="582" font-size="12" fill="#000" >139.62’</text>
<text x="0" y="0" font-size="13" fill="#000" transform="translate(687.2,376.4) rotate(-90)">LOT 3=9804 SF</text>
<text x="0" y="0" font-size="12.2" fill="#000" transform="translate(693.6,317.6) rotate(90)">299.05’</text>
<text x="681" y="100.4" font-size="6.5" fill="#111" stroke="#111" stroke-width="0.12">PROPERTY LINE</text>
<text x="681" y="155" font-size="6.5" fill="#111" stroke="#111" stroke-width="0.12">SB 9 SUBDIVISION LINE</text>
<text x="681" y="470.6" font-size="6.5" fill="#111" stroke="#111" stroke-width="0.12">SB 9 SUBDIVISION LINE</text>
<text id="title" x="92.3" y="53" font-size="18.8" fill="#000" textLength="229.5" lengthAdjust="spacingAndGlyphs">Future SB9 Development</text>
<line x1="764.2" y1="157.5" x2="764.2" y2="557.6" stroke="#000" stroke-width="1.35"/>
<line x1="827.5" y1="157.5" x2="827.5" y2="557.6" stroke="#000" stroke-width="1.35"/>
<line x1="917.3" y1="157.5" x2="917.3" y2="557.6" stroke="#000" stroke-width="1.35"/>
<line x1="1003.4" y1="157.5" x2="1003.4" y2="557.6" stroke="#000" stroke-width="1.35"/>
<line x1="1094.5" y1="157.5" x2="1094.5" y2="557.6" stroke="#000" stroke-width="1.35"/>
<line x1="1177" y1="157.5" x2="1177" y2="557.6" stroke="#000" stroke-width="1.35"/>
<line x1="763.6" y1="158.1" x2="1177.6" y2="158.1" stroke="#000" stroke-width="1.35"/>
<line x1="763.6" y1="194.5" x2="1177.6" y2="194.5" stroke="#000" stroke-width="1.35"/>
<line x1="1003.4" y1="225" x2="1177" y2="225" stroke="#000" stroke-width="1.35"/>
<line x1="917.3" y1="255" x2="1177" y2="255" stroke="#000" stroke-width="1.35"/>
<line x1="1003.4" y1="285.5" x2="1177" y2="285.5" stroke="#000" stroke-width="1.35"/>
<line x1="763.6" y1="316" x2="1177.6" y2="316" stroke="#000" stroke-width="1.35"/>
<line x1="1003.4" y1="346" x2="1177" y2="346" stroke="#000" stroke-width="1.35"/>
<line x1="917.3" y1="376.5" x2="1177" y2="376.5" stroke="#000" stroke-width="1.35"/>
<line x1="763.6" y1="406.5" x2="1177.6" y2="406.5" stroke="#000" stroke-width="1.35"/>
<line x1="917.3" y1="437" x2="1177" y2="437" stroke="#000" stroke-width="1.35"/>
<line x1="763.6" y1="467" x2="1177.6" y2="467" stroke="#000" stroke-width="1.35"/>
<line x1="917.3" y1="497" x2="1177" y2="497" stroke="#000" stroke-width="1.35"/>
<line x1="763.6" y1="527" x2="1177.6" y2="527" stroke="#000" stroke-width="1.35"/>
<line x1="763.6" y1="557" x2="1177.6" y2="557" stroke="#000" stroke-width="1.35"/>
<text x="836.2" y="179.2" font-size="16.0" font-weight="bold" fill="#000" stroke="#000" stroke-width="0.18" textLength="58.6" lengthAdjust="spacingAndGlyphs">Lot area</text>
<text x="926.2" y="179.2" font-size="16.0" font-weight="bold" fill="#000" stroke="#000" stroke-width="0.18" textLength="31.5" lengthAdjust="spacingAndGlyphs">SB 9</text>
<text x="1012.6" y="179.2" font-size="16.0" font-weight="bold" fill="#000" stroke="#000" stroke-width="0.18" textLength="60.0" lengthAdjust="spacingAndGlyphs">Building</text>
<rect x="1103.2" y="199.0" width="36.1" height="21.0" fill="#FFFF33"/>
<text x="773.0" y="215.0" font-size="15.3" fill="#000" stroke="#000" stroke-width="0.18" textLength="39.6" lengthAdjust="spacingAndGlyphs">LOT 1</text>
<text x="836.2" y="215.0" font-size="15.3" fill="#000" stroke="#000" stroke-width="0.18" textLength="43.6" lengthAdjust="spacingAndGlyphs">15780</text>
<text x="926.2" y="215.0" font-size="15.3" fill="#000" stroke="#000" stroke-width="0.18" textLength="49.6" lengthAdjust="spacingAndGlyphs">LOT 1A</text>
<text x="1012.6" y="215.0" font-size="15.3" fill="#000" stroke="#000" stroke-width="0.18" textLength="57.4" lengthAdjust="spacingAndGlyphs">UNIT 1A</text>
<text x="1104.0" y="215.0" font-size="15.3" fill="#000" stroke="#000" stroke-width="0.18" textLength="34.9" lengthAdjust="spacingAndGlyphs">1729</text>
<rect x="1103.2" y="229.5" width="27.4" height="21.0" fill="#EE1C25"/>
<text x="1012.6" y="245.5" font-size="15.3" fill="#000" stroke="#000" stroke-width="0.18" textLength="54.1" lengthAdjust="spacingAndGlyphs">ADU 1A</text>
<text x="1104.0" y="245.5" font-size="15.3" fill="#000" stroke="#000" stroke-width="0.18" textLength="26.2" lengthAdjust="spacingAndGlyphs">900</text>
<text x="926.2" y="275.5" font-size="15.3" fill="#000" stroke="#000" stroke-width="0.18" textLength="49.0" lengthAdjust="spacingAndGlyphs">LOT 1B</text>
<text x="1012.6" y="275.5" font-size="15.3" fill="#000" stroke="#000" stroke-width="0.18" textLength="56.8" lengthAdjust="spacingAndGlyphs">UNIT 1B</text>
<text x="1104.0" y="275.5" font-size="15.3" fill="#000" stroke="#000" stroke-width="0.18" textLength="34.9" lengthAdjust="spacingAndGlyphs">2700</text>
<rect x="1103.2" y="290.0" width="27.4" height="21.0" fill="#EE1C25"/>
<text x="1012.6" y="306.0" font-size="15.3" fill="#000" stroke="#000" stroke-width="0.18" textLength="53.5" lengthAdjust="spacingAndGlyphs">ADU 1B</text>
<text x="1104.0" y="306.0" font-size="15.3" fill="#000" stroke="#000" stroke-width="0.18" textLength="26.2" lengthAdjust="spacingAndGlyphs">766</text>
<text x="773.0" y="336.5" font-size="15.3" fill="#000" stroke="#000" stroke-width="0.18" textLength="39.6" lengthAdjust="spacingAndGlyphs">LOT 2</text>
<text x="836.2" y="336.5" font-size="15.3" fill="#000" stroke="#000" stroke-width="0.18" textLength="34.9" lengthAdjust="spacingAndGlyphs">9804</text>
<text x="926.2" y="336.5" font-size="15.3" fill="#000" stroke="#000" stroke-width="0.18" textLength="49.6" lengthAdjust="spacingAndGlyphs">LOT 2A</text>
<text x="1012.6" y="336.5" font-size="15.3" fill="#000" stroke="#000" stroke-width="0.18" textLength="47.5" lengthAdjust="spacingAndGlyphs">UNIT 2</text>
<text x="1104.0" y="336.5" font-size="15.3" fill="#000" stroke="#000" stroke-width="0.18" textLength="5.3" lengthAdjust="spacingAndGlyphs">-</text>
<rect x="1103.2" y="350.5" width="27.4" height="21.0" fill="#EE1C25"/>
<text x="1012.6" y="366.5" font-size="15.3" fill="#000" stroke="#000" stroke-width="0.18" textLength="44.2" lengthAdjust="spacingAndGlyphs">ADU 2</text>
<text x="1104.0" y="366.5" font-size="15.3" fill="#000" stroke="#000" stroke-width="0.18" textLength="26.2" lengthAdjust="spacingAndGlyphs">800</text>
<text x="926.2" y="397.0" font-size="15.3" fill="#000" stroke="#000" stroke-width="0.18" textLength="49.0" lengthAdjust="spacingAndGlyphs">LOT 2B</text>
<text x="1012.6" y="397.0" font-size="15.3" fill="#000" stroke="#000" stroke-width="0.18" textLength="56.8" lengthAdjust="spacingAndGlyphs">UNIT 2B</text>
<text x="1104.0" y="397.0" font-size="15.3" fill="#000" stroke="#000" stroke-width="0.18" textLength="34.9" lengthAdjust="spacingAndGlyphs">1800</text>
<rect x="1103.2" y="411.0" width="36.1" height="21.0" fill="#FFFF33"/>
<text x="773.0" y="427.0" font-size="15.3" fill="#000" stroke="#000" stroke-width="0.18" textLength="39.6" lengthAdjust="spacingAndGlyphs">LOT 3</text>
<text x="836.2" y="427.0" font-size="15.3" fill="#000" stroke="#000" stroke-width="0.18" textLength="34.9" lengthAdjust="spacingAndGlyphs">8156</text>
<text x="926.2" y="427.0" font-size="15.3" fill="#000" stroke="#000" stroke-width="0.18" textLength="49.6" lengthAdjust="spacingAndGlyphs">LOT 3A</text>
<text x="1012.6" y="427.0" font-size="15.3" fill="#000" stroke="#000" stroke-width="0.18" textLength="57.4" lengthAdjust="spacingAndGlyphs">UNIT 3A</text>
<text x="1104.0" y="427.0" font-size="15.3" fill="#000" stroke="#000" stroke-width="0.18" textLength="34.9" lengthAdjust="spacingAndGlyphs">1120</text>
<text x="926.2" y="457.5" font-size="15.3" fill="#000" stroke="#000" stroke-width="0.18" textLength="49.0" lengthAdjust="spacingAndGlyphs">LOT 3B</text>
<text x="1012.6" y="457.5" font-size="15.3" fill="#000" stroke="#000" stroke-width="0.18" textLength="56.8" lengthAdjust="spacingAndGlyphs">UNIT 3B</text>
<text x="1104.0" y="457.5" font-size="15.3" fill="#000" stroke="#000" stroke-width="0.18" textLength="34.9" lengthAdjust="spacingAndGlyphs">2400</text>
<text x="773.0" y="487.5" font-size="15.3" fill="#000" stroke="#000" stroke-width="0.18" textLength="39.6" lengthAdjust="spacingAndGlyphs">LOT 4</text>
<text x="836.2" y="487.5" font-size="15.3" fill="#000" stroke="#000" stroke-width="0.18" textLength="34.9" lengthAdjust="spacingAndGlyphs">7210</text>
<text x="926.2" y="487.5" font-size="15.3" fill="#000" stroke="#000" stroke-width="0.18" textLength="49.6" lengthAdjust="spacingAndGlyphs">LOT 4A</text>
<text x="1012.6" y="487.5" font-size="15.3" fill="#000" stroke="#000" stroke-width="0.18" textLength="57.4" lengthAdjust="spacingAndGlyphs">UNIT 4A</text>
<text x="1104.0" y="487.5" font-size="15.3" fill="#000" stroke="#000" stroke-width="0.18" textLength="34.9" lengthAdjust="spacingAndGlyphs">2200</text>
<text x="926.2" y="517.5" font-size="15.3" fill="#000" stroke="#000" stroke-width="0.18" textLength="49.0" lengthAdjust="spacingAndGlyphs">LOT 4B</text>
<text x="1012.6" y="517.5" font-size="15.3" fill="#000" stroke="#000" stroke-width="0.18" textLength="56.8" lengthAdjust="spacingAndGlyphs">UNIT 4B</text>
<text x="1104.0" y="517.5" font-size="15.3" fill="#000" stroke="#000" stroke-width="0.18" textLength="34.9" lengthAdjust="spacingAndGlyphs">2500</text>
<text x="836.2" y="547.5" font-size="15.3" fill="#000" stroke="#000" stroke-width="0.18" textLength="52.2" lengthAdjust="spacingAndGlyphs">=40000</text>
<text x="1104.0" y="547.5" font-size="15.3" fill="#000" stroke="#000" stroke-width="0.18" textLength="52.2" lengthAdjust="spacingAndGlyphs">=16000</text>
<line x1="794.4" y1="0" x2="794.4" y2="661" stroke="#808080" stroke-opacity="0.5" stroke-width="1.6"/>
<line x1="848.5" y1="85" x2="789" y2="163" stroke="#4f78c0" stroke-width="0.75"/>
<polygon points="786.1,166.4 788.4,158.8 794,163.4" fill="#4472C4"/>
<rect x="848.6" y="16.2" width="328.6" height="125.4" rx="21" ry="21" fill="#4472C4" stroke="#2F528F" stroke-width="1.2"/>
<text x="861.0" y="36.6" font-size="17.6" font-weight="bold" fill="#000" textLength="290.5" lengthAdjust="spacingAndGlyphs" xml:space="preserve">Maximum build-out potential after</text>
<text x="861.0" y="60.7" font-size="17.6" font-weight="bold" fill="#000" textLength="99.0" lengthAdjust="spacingAndGlyphs" xml:space="preserve">subdivision:</text>
<text x="861.0" y="84.8" font-size="17.6" fill="#000" textLength="305.0" lengthAdjust="spacingAndGlyphs" xml:space="preserve">Eight parcels can be created, allowing</text>
<text x="861.0" y="109.0" font-size="17.6" fill="#000" textLength="204.0" lengthAdjust="spacingAndGlyphs" xml:space="preserve">for eight new buildings—</text>
<text x="1065.5" y="109.0" font-size="17.6" font-weight="bold" fill="#000" textLength="100.5" lengthAdjust="spacingAndGlyphs" xml:space="preserve">five primary</text>
<text x="861.0" y="133.1" font-size="17.6" font-weight="bold" fill="#000" textLength="54.5" lengthAdjust="spacingAndGlyphs" xml:space="preserve">homes</text>
<text x="920.2" y="133.1" font-size="17.6" fill="#000" textLength="32.0" lengthAdjust="spacingAndGlyphs" xml:space="preserve">and</text>
<text x="957.2" y="133.1" font-size="17.6" font-weight="bold" fill="#000" textLength="93.7" lengthAdjust="spacingAndGlyphs" xml:space="preserve">three ADUs</text>
<text x="1050.9" y="133.1" font-size="17.6" fill="#000" textLength="4.5" lengthAdjust="spacingAndGlyphs" xml:space="preserve">.</text>
</svg>
</body></html>
